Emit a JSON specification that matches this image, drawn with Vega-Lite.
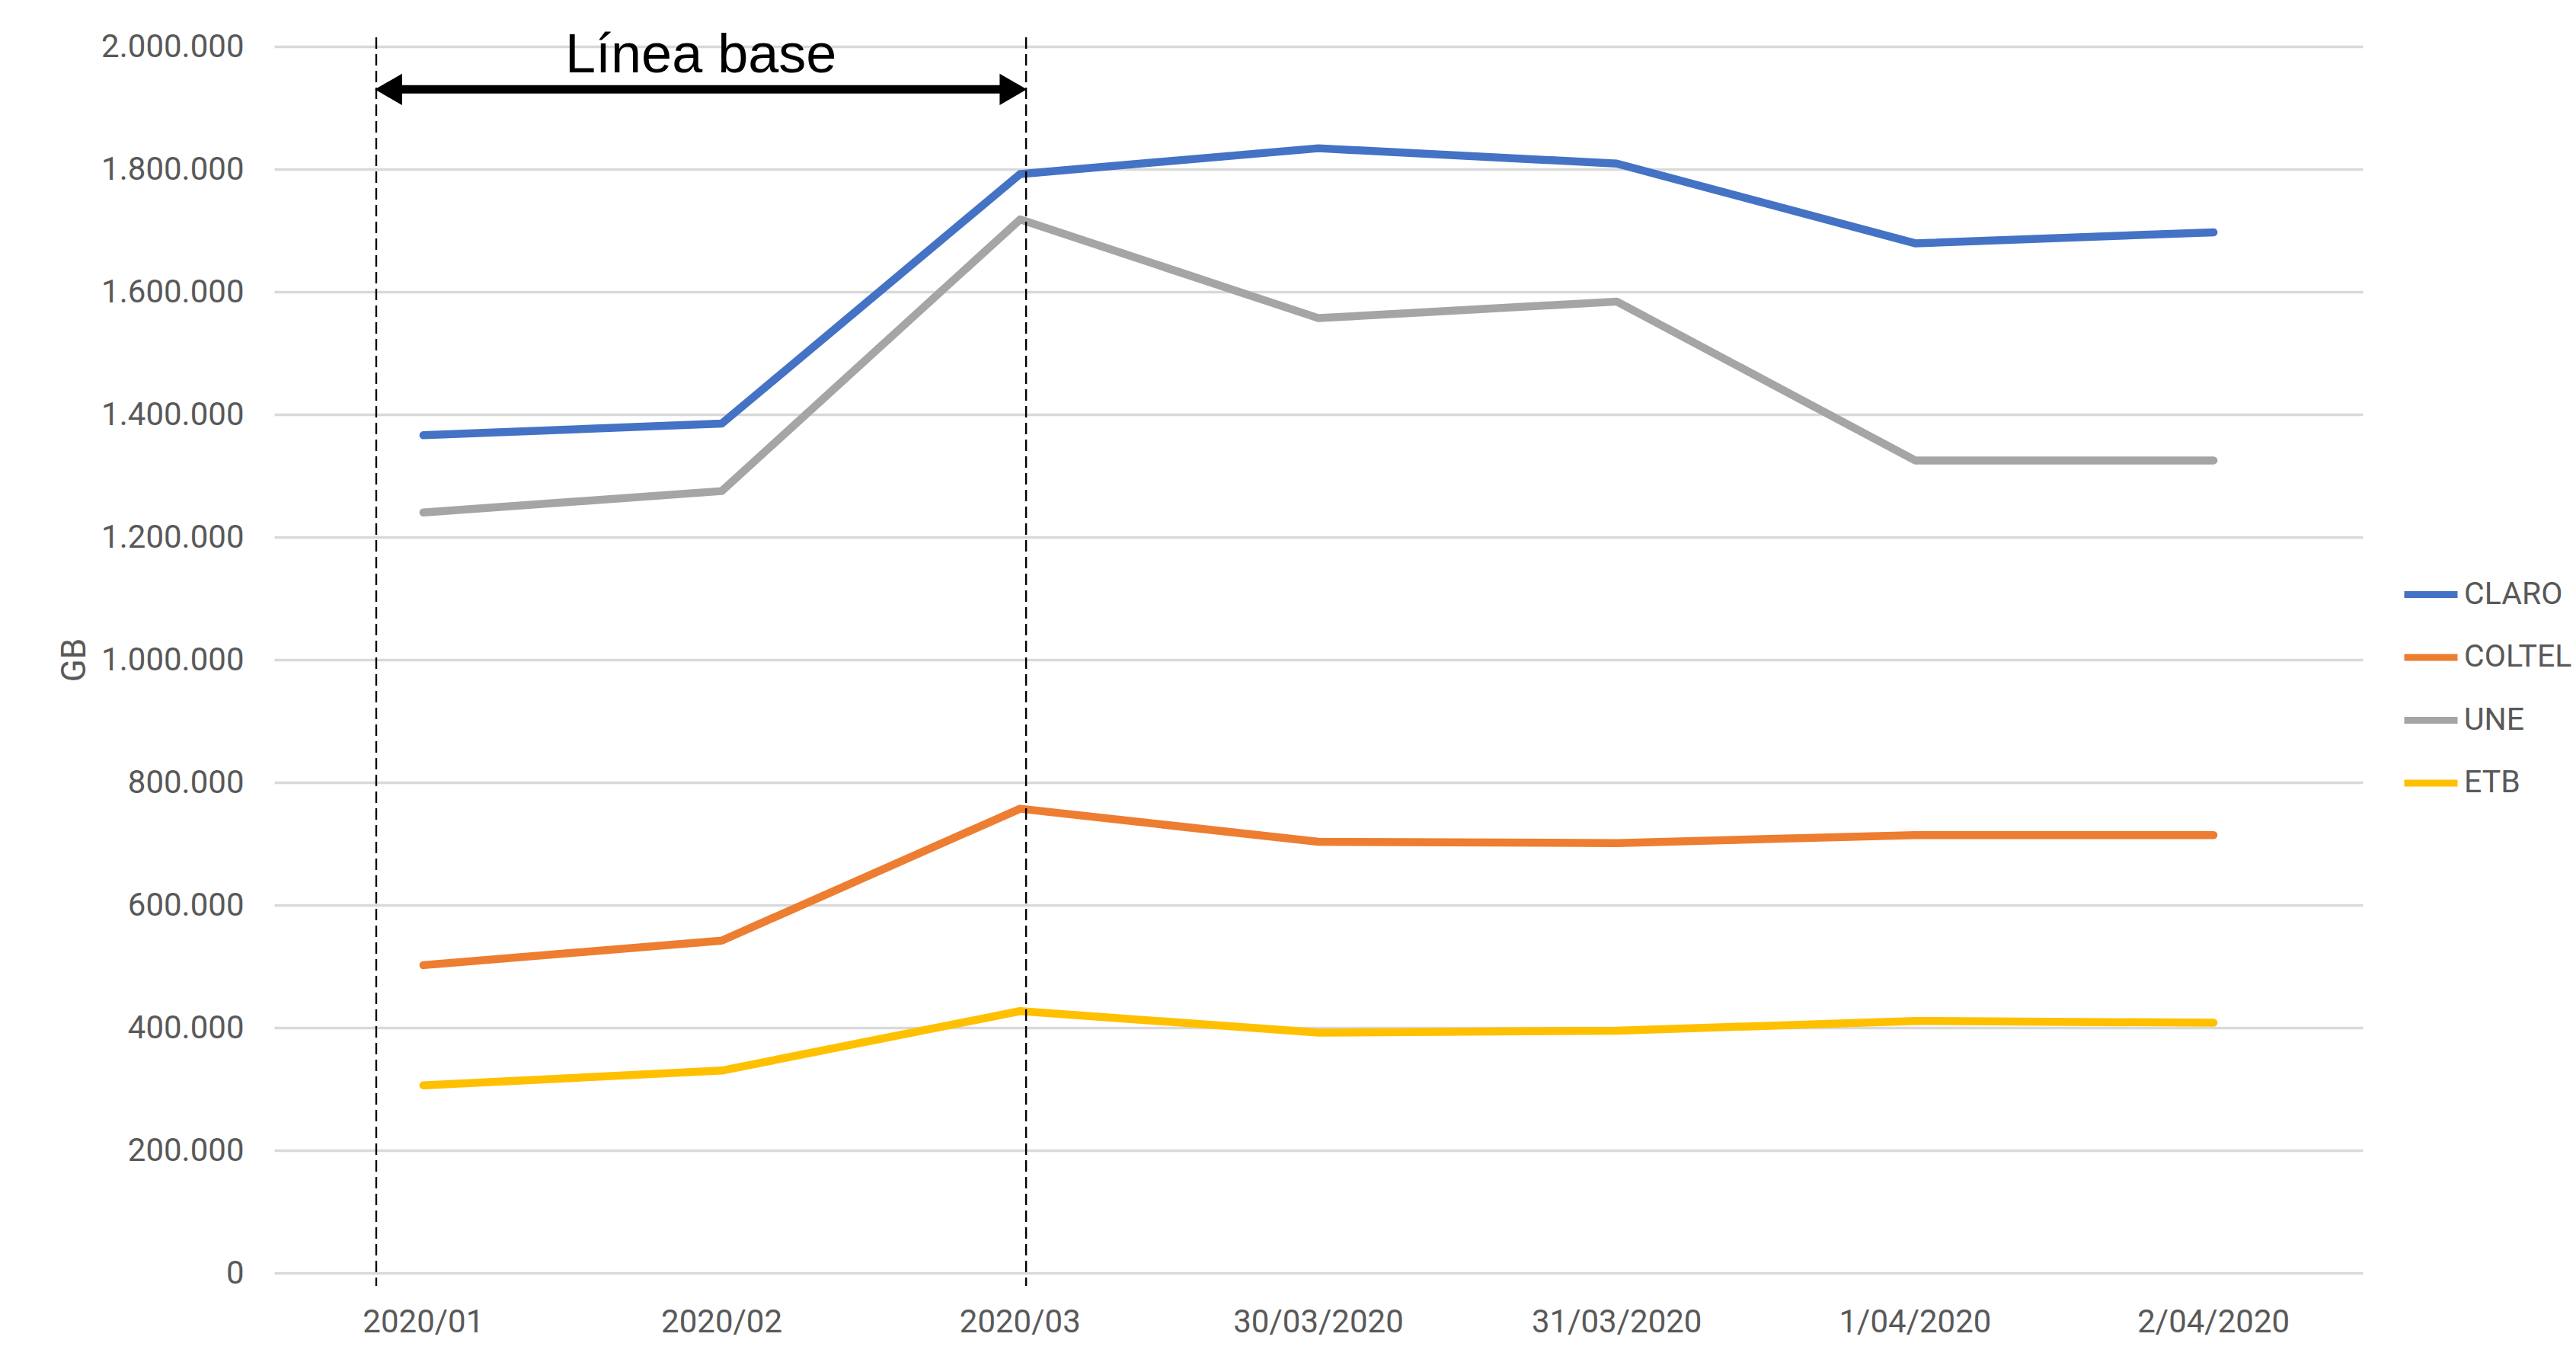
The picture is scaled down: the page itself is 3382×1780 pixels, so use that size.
{
  "$schema": "https://vega.github.io/schema/vega-lite/v6.json",
  "width": 2742,
  "height": 1610,
  "autosize": {"type": "none"},
  "padding": {"left": 360, "top": 61, "right": 280, "bottom": 109},
  "background": "white",
  "config": {
    "view": {"stroke": null},
    "locale": {"number": {"decimal": ",", "thousands": ".", "grouping": [3], "currency": ["", ""]}}
  },
  "datasets": {
    "series": [
      {"fecha": "2020/01", "operador": "CLARO", "gb": 1366000},
      {"fecha": "2020/02", "operador": "CLARO", "gb": 1385000},
      {"fecha": "2020/03", "operador": "CLARO", "gb": 1792000},
      {"fecha": "30/03/2020", "operador": "CLARO", "gb": 1834000},
      {"fecha": "31/03/2020", "operador": "CLARO", "gb": 1809000},
      {"fecha": "1/04/2020", "operador": "CLARO", "gb": 1679000},
      {"fecha": "2/04/2020", "operador": "CLARO", "gb": 1697000},
      {"fecha": "2020/01", "operador": "COLTEL", "gb": 502000},
      {"fecha": "2020/02", "operador": "COLTEL", "gb": 542000},
      {"fecha": "2020/03", "operador": "COLTEL", "gb": 757000},
      {"fecha": "30/03/2020", "operador": "COLTEL", "gb": 703000},
      {"fecha": "31/03/2020", "operador": "COLTEL", "gb": 701000},
      {"fecha": "1/04/2020", "operador": "COLTEL", "gb": 714000},
      {"fecha": "2/04/2020", "operador": "COLTEL", "gb": 714000},
      {"fecha": "2020/01", "operador": "UNE", "gb": 1240000},
      {"fecha": "2020/02", "operador": "UNE", "gb": 1275000},
      {"fecha": "2020/03", "operador": "UNE", "gb": 1718000},
      {"fecha": "30/03/2020", "operador": "UNE", "gb": 1557000},
      {"fecha": "31/03/2020", "operador": "UNE", "gb": 1584000},
      {"fecha": "1/04/2020", "operador": "UNE", "gb": 1325000},
      {"fecha": "2/04/2020", "operador": "UNE", "gb": 1325000},
      {"fecha": "2020/01", "operador": "ETB", "gb": 306000},
      {"fecha": "2020/02", "operador": "ETB", "gb": 330000},
      {"fecha": "2020/03", "operador": "ETB", "gb": 427000},
      {"fecha": "30/03/2020", "operador": "ETB", "gb": 392000},
      {"fecha": "31/03/2020", "operador": "ETB", "gb": 395000},
      {"fecha": "1/04/2020", "operador": "ETB", "gb": 411000},
      {"fecha": "2/04/2020", "operador": "ETB", "gb": 408000}
    ],
    "limites": [
      {"fecha": "2020/01", "arriba": 2015000, "abajo": -21000}
    ],
    "limites2": [
      {"fecha": "2020/03", "arriba": 2015000, "abajo": -21000}
    ],
    "flecha": [
      {"inicio": "2020/01", "fin": "2020/03", "nivel": 1930000}
    ],
    "punta_izq": [{"fecha": "2020/01", "nivel": 1930000}],
    "punta_der": [{"fecha": "2020/03", "nivel": 1930000}],
    "etiqueta": [{"fecha": "2020/02", "nivel": 1958000, "texto": "Línea base"}]
  },
  "layer": [
    {
      "data": {"name": "series"},
      "mark": {"type": "line", "strokeWidth": 10.5, "strokeCap": "round", "strokeJoin": "round"},
      "encoding": {
        "x": {
          "field": "fecha", "type": "ordinal", "bandPosition": 0.5,
          "sort": ["2020/01", "2020/02", "2020/03", "30/03/2020", "31/03/2020", "1/04/2020", "2/04/2020"],
          "scale": {"type": "band", "paddingInner": 0, "paddingOuter": 0,
            "domain": ["2020/01", "2020/02", "2020/03", "30/03/2020", "31/03/2020", "1/04/2020", "2/04/2020"]},
          "axis": {
            "title": null, "labelAngle": 0, "domain": false, "ticks": false, "labelLimit": 0,
            "labelFont": "Roboto", "labelFontSize": 42, "labelColor": "#595959", "labelPadding": 44
          }
        },
        "y": {
          "field": "gb", "type": "quantitative",
          "scale": {"domain": [0, 2000000], "nice": false, "zero": true},
          "axis": {
            "title": "GB", "values": [0, 200000, 400000, 600000, 800000, 1000000, 1200000, 1400000, 1600000, 1800000, 2000000],
            "format": ",d", "domain": false, "ticks": false, "labelLimit": 0,
            "grid": true, "gridColor": "#d9d9d9", "gridWidth": 3.5,
            "labelFont": "Roboto", "labelFontSize": 42, "labelColor": "#595959", "labelPadding": 40,
            "titleFont": "Roboto", "titleFontSize": 44, "titleFontWeight": "normal", "titleColor": "#595959", "titlePadding": 40
          }
        },
        "color": {
          "field": "operador", "type": "nominal",
          "scale": {"domain": ["CLARO", "COLTEL", "UNE", "ETB"], "range": ["#4472C4", "#ED7D31", "#A5A5A5", "#FFC000"]},
          "legend": {
            "title": null, "orient": "none", "legendX": 2792, "legendY": 680,
            "symbolType": "stroke", "symbolSize": 4900, "symbolStrokeWidth": 9,
            "labelFont": "Roboto", "labelFontSize": 41, "labelColor": "#595959", "labelOffset": 4, "labelLimit": 0,
            "rowPadding": 22.5, "padding": 0
          }
        }
      }
    },
    {
      "data": {"name": "limites"},
      "mark": {"type": "rule", "color": "black", "strokeWidth": 2.4, "strokeDash": [15, 7]},
      "encoding": {
        "x": {"field": "fecha", "type": "ordinal", "bandPosition": 0.342},
        "y": {"field": "arriba", "type": "quantitative"},
        "y2": {"field": "abajo"}
      }
    },
    {
      "data": {"name": "limites2"},
      "mark": {"type": "rule", "color": "black", "strokeWidth": 2.4, "strokeDash": [15, 7]},
      "encoding": {
        "x": {"field": "fecha", "type": "ordinal", "bandPosition": 0.52},
        "y": {"field": "arriba", "type": "quantitative"},
        "y2": {"field": "abajo"}
      }
    },
    {
      "data": {"name": "flecha"},
      "mark": {"type": "rule", "color": "black", "strokeWidth": 11},
      "encoding": {
        "x": {"field": "inicio", "type": "ordinal", "bandPosition": 0.37},
        "x2": {"field": "fin", "bandPosition": 0.47},
        "y": {"field": "nivel", "type": "quantitative"}
      }
    },
    {
      "data": {"name": "punta_izq"},
      "mark": {"type": "point", "shape": "triangle-left", "filled": true, "color": "black", "size": 1700, "opacity": 1},
      "encoding": {
        "x": {"field": "fecha", "type": "ordinal", "bandPosition": 0.383},
        "y": {"field": "nivel", "type": "quantitative"}
      }
    },
    {
      "data": {"name": "punta_der"},
      "mark": {"type": "point", "shape": "triangle-right", "filled": true, "color": "black", "size": 1700, "opacity": 1},
      "encoding": {
        "x": {"field": "fecha", "type": "ordinal", "bandPosition": 0.477},
        "y": {"field": "nivel", "type": "quantitative"}
      }
    },
    {
      "data": {"name": "etiqueta"},
      "mark": {"type": "text", "font": "Liberation Sans", "fontSize": 72, "color": "black", "align": "center", "baseline": "alphabetic"},
      "encoding": {
        "x": {"field": "fecha", "type": "ordinal", "bandPosition": 0.43},
        "y": {"field": "nivel", "type": "quantitative"},
        "text": {"field": "texto"}
      }
    }
  ]
}
